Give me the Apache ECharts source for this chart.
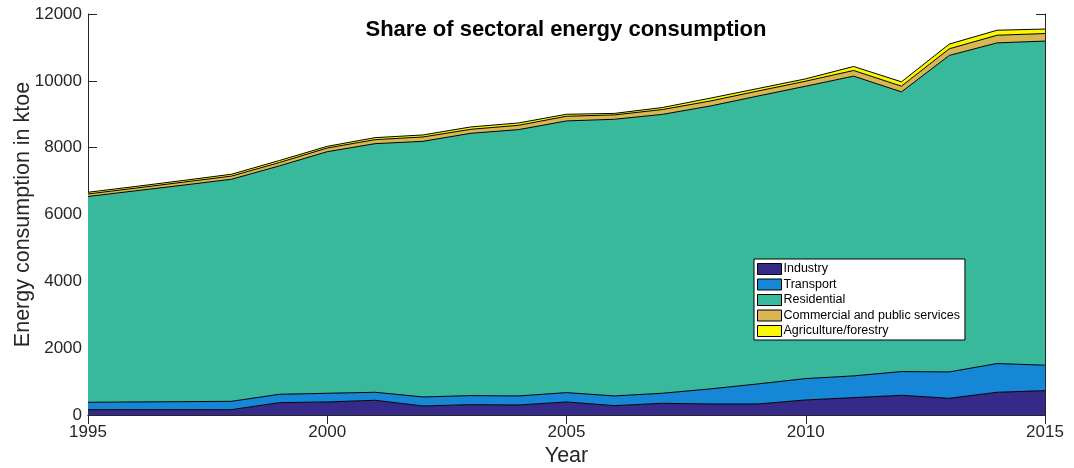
<!DOCTYPE html>
<html>
<head>
<meta charset="utf-8">
<script src="https://cdn.jsdelivr.net/npm/echarts@6/dist/echarts.min.js"></script>
<style>
  html, body { margin: 0; padding: 0; background: #fff; }
  #main { width: 1074px; height: 468px; }
</style>
</head>
<body>
<div id="main"></div>
<script>
// years on the x axis
var years = ['1995','1996','1997','1998','1999','2000','2001','2002','2003','2004','2005',
             '2006','2007','2008','2009','2010','2011','2012','2013','2014','2015'];

// ktoe per sector
var industry    = [160,160,160,160,370,390,440,270,310,300,390,280,350,330,330,450,520,590,500,680,730];
var transport   = [220,230,240,250,250,260,240,270,270,270,280,290,300,450,600,640,650,710,790,860,760];
var residential = [6160,6320,6480,6645,6835,7230,7440,7650,7850,7970,8130,8280,8345,8465,8615,8750,8970,8370,9470,9595,9700];
var commercial  = [75,80,90,95,100,110,120,130,120,130,140,130,145,150,150,150,170,170,200,230,225];
var agriculture = [50,50,50,55,60,50,60,60,70,70,60,45,60,85,75,70,120,130,140,150,135];

var names  = ['Industry','Transport','Residential','Commercial and public services','Agriculture/forestry'];
var colors = ['#352a87','#1686d6','#38b99c','#d8b654','#f8f800'];
var values = [industry, transport, residential, commercial, agriculture];

var font = "'Liberation Sans', Arial, Helvetica, sans-serif";
var axisColor = '#262626';

var series = values.map(function (v, i) {
  return {
    name: names[i],
    type: 'line',
    stack: 'total',
    data: v,
    symbol: 'none',
    itemStyle: { color: colors[i] },
    lineStyle: { color: '#000', width: 1 },
    areaStyle: { color: colors[i], opacity: 1 }
  };
});

var chart = echarts.init(document.getElementById('main'));

var option = {
  animation: false,
  backgroundColor: '#fff',
  title: {
    text: 'Share of sectoral energy consumption',
    left: 566,
    top: 19,
    padding: 0,
    textAlign: 'center',
    textStyle: { fontFamily: font, fontSize: 22, fontWeight: 'bold', color: '#000' }
  },
  legend: {
    orient: 'vertical',
    left: 754,
    top: 259,
    padding: [3, 5, 2, 3],
    backgroundColor: '#fff',
    borderColor: '#000',
    borderWidth: 1,
    icon: 'rect',
    itemWidth: 24,
    itemHeight: 11,
    itemGap: 1.5,
    itemStyle: { borderColor: '#000', borderWidth: 1 },
    textStyle: { fontFamily: font, fontSize: 12.5, color: '#000', lineHeight: 14, padding: [0, 0, 0, -3] },
    data: names
  },
  grid: { left: 88, right: 29, top: 14, bottom: 53, containLabel: false, outerBoundsMode: 'none' },
  xAxis: [{
    type: 'category',
    data: years,
    boundaryGap: false,
    name: 'Year',
    nameLocation: 'middle',
    nameGap: 30,
    nameMoveOverlap: false,
    nameTextStyle: { fontFamily: font, fontSize: 21.5, color: axisColor },
    axisLine: { lineStyle: { color: axisColor, width: 1 } },
    axisTick: { inside: true, interval: 4, length: 9, lineStyle: { color: axisColor } },
    axisLabel: { interval: 4, margin: 9, fontFamily: font, fontSize: 17, color: axisColor },
    splitLine: { show: false }
  }, {
    type: 'category',
    data: years,
    boundaryGap: false,
    position: 'top',
    axisLine: { lineStyle: { color: axisColor, width: 1 } },
    axisTick: { inside: true, interval: 4, length: 9, lineStyle: { color: axisColor } },
    axisLabel: { show: false },
    splitLine: { show: false }
  }],
  yAxis: [{
    type: 'value',
    min: 0,
    max: 12000,
    interval: 2000,
    name: 'Energy consumption in ktoe',
    nameLocation: 'middle',
    nameGap: 54,
    nameRotate: 90,
    nameMoveOverlap: false,
    nameTextStyle: { fontFamily: font, fontSize: 21.5, color: axisColor },
    axisLine: { show: true, lineStyle: { color: axisColor, width: 1 } },
    axisTick: { show: true, inside: true, length: 9, lineStyle: { color: axisColor } },
    axisLabel: {
      margin: 6, fontFamily: font, fontSize: 17, color: axisColor,
      formatter: function (v) { return String(v); }
    },
    splitLine: { show: false }
  }, {
    type: 'value',
    min: 0,
    max: 12000,
    interval: 2000,
    position: 'right',
    axisLine: { show: true, lineStyle: { color: axisColor, width: 1 } },
    axisTick: { show: true, inside: true, length: 9, lineStyle: { color: axisColor } },
    axisLabel: { show: false },
    splitLine: { show: false }
  }],
  series: series
};

chart.setOption(option);
</script>
</body>
</html>
